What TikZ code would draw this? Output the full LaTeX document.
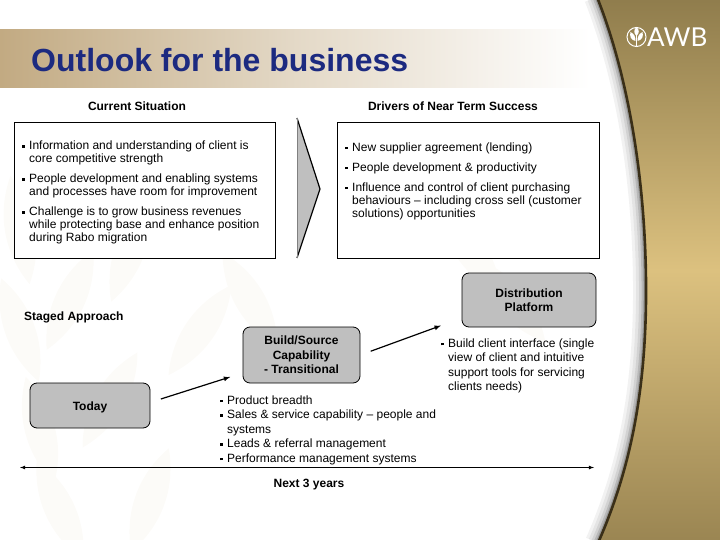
\documentclass[tikz,border=0pt]{standalone}
\usepackage{fontspec}
\setmainfont{Liberation Sans}
\newfontfamily\logofont{Lato}
\usepackage{tikz}
\definecolor{titleblue}{HTML}{1C2A80}
\definecolor{bandtan}{HTML}{C2AA82}
\definecolor{boxgray}{HTML}{BFBFBF}
\definecolor{goldtop}{HTML}{8F7C4C}
\definecolor{goldmid}{HTML}{DCC17F}
\definecolor{goldlow}{HTML}{9A8552}
\definecolor{edgebrown}{HTML}{3A2F18}
\definecolor{wheat}{HTML}{FCFBF8}
\newcommand{\blt}{\makebox[7pt][l]{\rule[2pt]{2.4pt}{2.4pt}}}
\newcommand{\ind}{\hspace*{7pt}}
\newcommand{\edgepath}{(597,-3) .. controls (630,80) and (647,190) .. (646,300) .. controls (645,400) and (628,475) .. (598,543)}
\tikzset{
    bodytext/.style={font=\fontsize{12}{13}\selectfont, align=left, anchor=west, inner sep=0pt},
    looselist/.style={bodytext, font=\fontsize{12}{14.5}\selectfont},
    headtext/.style={font=\fontsize{12}{14}\selectfont\bfseries, align=center, inner sep=0pt},
    framebox/.style={draw=black, line width=0.8pt, fill=white, minimum height=136pt, inner sep=0pt},
    stagebox/.style={draw=black, line width=0.8pt, fill=boxgray, rounded corners=7pt, inner sep=0pt, font=\fontsize{12}{14.5}\selectfont\bfseries, align=center, execute at begin node={\rule{0pt}{12pt}}},
    stagearrow/.style={-latex, line width=1.2pt}
}

\begin{document}
\begin{tikzpicture}[x=1pt, y=-1pt]
        \useasboundingbox (0,0) rectangle (720,540);
        % faint wheat behind the page
        \foreach \px/\py/\rot in {20/330/20, 70/300/-25, 40/430/15, 110/400/-30, 60/510/25, 150/500/-20, 200/330/-35, 250/300/30, 130/250/-20, 470/250/35, 510/300/40, 20/230/10} {
            \fill[wheat, rotate around={\rot:(\px,\py)}] (\px,\py-55) .. controls (\px+20,\py-20) and (\px+20,\py+20) .. (\px,\py+55) .. controls (\px-20,\py+20) and (\px-20,\py-20) .. (\px,\py-55);
        }
        % title band
        \shade[left color=bandtan, right color=white, middle color=bandtan!45!white] (0,30) rectangle (590,88);
        \node[font=\fontsize{32}{36}\selectfont\bfseries, text=titleblue, anchor=west, inner sep=0pt] (title) at (31,60) {Outlook for the business};
        % gold side panel
        \foreach \w/\o in {26/0.05, 20/0.06, 14/0.08, 9/0.12, 5/0.18} {
            \draw[black, line width=\w pt, opacity=\o] \edgepath;
        }
        \shade[top color=goldtop, bottom color=goldlow, middle color=goldmid] \edgepath -- (720,543) -- (720,-3) -- cycle;
        \draw[edgebrown, line width=2.6pt] \edgepath;
        % logo
        \node[draw=white, circle, line width=1pt, minimum size=19pt, inner sep=0pt] (logoring) at (636.5,37) {};
        \draw[white, line width=1pt] (636.5,46) -- (636.5,31);
        \fill[white] (636.5,27) .. controls (639.5,30) and (639.5,33) .. (636.5,36) .. controls (633.5,33) and (633.5,30) .. (636.5,27);
        \fill[white] (635.5,41) .. controls (630.5,40) and (629.5,36) .. (630.5,32) .. controls (634.5,34) and (635.5,37) .. (635.5,41);
        \fill[white] (637.5,41) .. controls (642.5,40) and (643.5,36) .. (642.5,32) .. controls (638.5,34) and (637.5,37) .. (637.5,41);
        \node[font=\fontsize{26}{26}\logofont, text=white, anchor=west, inner sep=0pt] (logoname) at (647,37) {AWB};

        % upper part
        \node[headtext] (currenthead) at (137,106.5) {Current Situation};
        \node[headtext] (drivershead) at (453,106.5) {Drivers of Near Term Success};
        \node[framebox, minimum width=261pt] (currentbox) at (145,190) {};
        \node[framebox, minimum width=262pt] (driversbox) at (468.5,190) {};
        \fill[boxgray] (297,118) -- (320,189) -- (297,258) -- cycle;
        \draw[black, line width=1.2pt] (297,118) -- (320,189) -- (297,258);
        \draw[gray, line width=0.6pt] (297,118) -- (297,258);

        \node[bodytext] (currentone) at (22,153) {\blt Information and understanding of client is\\\ind core competitive strength};
        \node[bodytext] (currenttwo) at (22,186) {\blt People development and enabling systems\\\ind and processes have room for improvement};
        \node[bodytext] (currentthree) at (22,225.5) {\blt Challenge is to grow business revenues\\\ind while protecting base and enhance position\\\ind during Rabo migration};
        \node[bodytext] (driversone) at (345,148) {\blt New supplier agreement (lending)};
        \node[bodytext] (driverstwo) at (345,168) {\blt People development \& productivity};
        \node[bodytext] (driversthree) at (345,201) {\blt Influence and control of client purchasing\\\ind behaviours – including cross sell (customer\\\ind solutions) opportunities};

        % staged approach
        \node[headtext, anchor=west] (stagedhead) at (24,317.5) {Staged Approach};
        \node[stagebox, minimum width=120pt, minimum height=45pt] (today) at (90,405.5) {Today};
        \node[stagebox, minimum width=117pt, minimum height=56pt] (build) at (301.5,355) {Build/Source\\Capability\\- Transitional};
        \node[stagebox, minimum width=134pt, minimum height=54pt] (distribution) at (529,300) {Distribution\\Platform};
        \draw[stagearrow, shorten <=11pt, shorten >=13pt] (today.3) -- (build.197);
        \draw[stagearrow, shorten <=11pt, shorten >=22pt] (build.east) -- (distribution.195);

        \node[looselist] (buildlist) at (220,430) {\blt Product breadth\\\blt Sales \& service capability – people and\\\ind systems\\\blt Leads \& referral management\\\blt Performance management systems};
        \node[looselist] (distlist) at (441,366) {\blt Build client interface (single\\\ind view of client and intuitive\\\ind support tools for servicing\\\ind clients needs)};

        % time line
        \coordinate (linestart) at (20,467.5);
        \coordinate (lineend) at (594,467.5);
        \draw[latex-latex, line width=0.8pt] (linestart) -- (lineend);
        \node[headtext] (nextyears) at (309,485) {Next 3 years};
    \end{tikzpicture}
\end{document}
